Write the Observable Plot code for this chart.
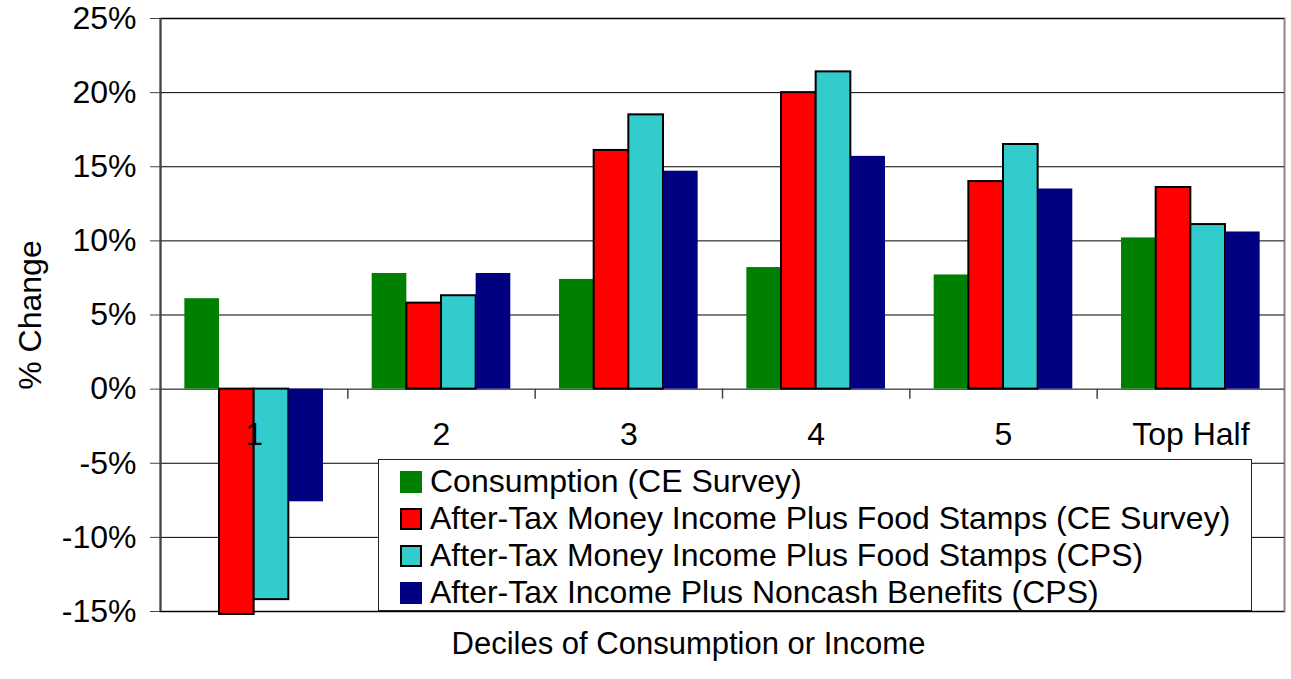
<!DOCTYPE html>
<html>
<head>
<meta charset="utf-8">
<script src="https://cdn.jsdelivr.net/npm/d3@7"></script>
<script src="https://cdn.jsdelivr.net/npm/@observablehq/plot@0.6"></script>
<style>
  html, body { margin: 0; padding: 0; background: #fff; }
  #wrap { position: relative; width: 1291px; height: 679px; font-family: "Liberation Sans", Arial, sans-serif; }
  #legend { position: absolute; left: 378px; top: 459px; width: 872px; height: 150px; background: #fff; border: 1.5px solid #222; box-sizing: content-box; }
  .row { position: absolute; left: 21px; height: 37px; display: flex; align-items: center; font-size: 32px; color: #000; white-space: nowrap; }
  .sw { width: 22px; height: 22px; margin-right: 8px; box-sizing: border-box; flex: none; }
</style>
</head>
<body>
<div id="wrap"></div>
<script>
const groups = ["1", "2", "3", "4", "5", "Top Half"];
const series = [
  "Consumption (CE Survey)",
  "After-Tax Money Income Plus Food Stamps (CE Survey)",
  "After-Tax Money Income Plus Food Stamps (CPS)",
  "After-Tax Income Plus Noncash Benefits (CPS)"
];
const consumptionCE = [6.1, 7.8, 7.4, 8.2, 7.7, 10.2];
const afterTaxFoodCE = [-15.2, 5.8, 16.1, 20.0, 14.0, 13.6];
const afterTaxFoodCPS = [-14.2, 6.3, 18.5, 21.4, 16.5, 11.1];
const afterTaxNoncashCPS = [-7.6, 7.8, 14.7, 15.7, 13.5, 10.6];
const yTicks = [-15, -10, -5, 0, 5, 10, 15, 20, 25];
const xTitle = "Deciles of Consumption or Income";
const yTitle = "% Change";

const colors = ["#008000", "#FF0000", "#33CCCC", "#000080"];
const strokes = ["none", "#000", "#000", "none"];
const seriesValues = [consumptionCE, afterTaxFoodCE, afterTaxFoodCPS, afterTaxNoncashCPS];

// layout within each category band (band = 1 unit)
const barW = 0.185;
const pad = (1 - series.length * barW) / 2;
const FS = 32;

const table = groups.flatMap((g, gi) => series.map((s, si) => ({
  group: g, gi, series: s, si, value: seriesValues[si][gi]
})));

const plot = Plot.plot({
  width: 1291,
  height: 679,
  marginLeft: 160,
  marginRight: 7,
  marginTop: 18,
  marginBottom: 68,
  style: { fontFamily: "'Liberation Sans', Arial, sans-serif", fontSize: FS + "px", color: "#000", background: "#fff" },
  x: { type: "linear", domain: [0, groups.length], axis: null },
  y: { domain: [-15, 25], axis: null },
  marks: [
    Plot.frame({ stroke: "#888", strokeWidth: 2 }),
    Plot.gridY(yTicks, { stroke: "#000", strokeOpacity: 1, strokeWidth: 1 }),
    Plot.axisY({ ticks: yTicks, tickSize: 10, tickPadding: 14, tickFormat: d => d + "%", stroke: "#444", label: null, fontSize: FS }),
    Plot.rectY(table, {
      x1: d => d.gi + pad + d.si * barW,
      x2: d => d.gi + pad + (d.si + 1) * barW,
      y1: 0,
      y2: "value",
      fill: d => colors[d.si],
      stroke: d => strokes[d.si],
      strokeWidth: 2
    }),
    Plot.ruleX(d3.range(1, groups.length), { x: d => d, y1: 0, y2: 0, insetBottom: -10, stroke: "#444", strokeWidth: 1.5 }),
    Plot.ruleX([0], { stroke: "#444", strokeWidth: 2 }),
    Plot.text(groups, { x: (d, i) => i + 0.5, y: () => 0, text: d => d, dy: 46, fontSize: FS, fill: "#000" }),
    Plot.text([xTitle], { frameAnchor: "bottom", text: d => d, dx: -34, dy: 33, lineAnchor: "middle", textAnchor: "middle", fontSize: 31, fill: "#000" }),
    Plot.text([yTitle], { frameAnchor: "left", text: d => d, rotate: -90, dx: -130, textAnchor: "middle", lineAnchor: "middle", fontSize: FS, fill: "#000" })
  ]
});

const wrap = document.getElementById("wrap");
wrap.appendChild(plot);

const legend = document.createElement("div");
legend.id = "legend";
series.forEach((s, i) => {
  const row = document.createElement("div");
  row.className = "row";
  row.style.top = (3 + i * 37) + "px";
  const sw = document.createElement("div");
  sw.className = "sw";
  sw.style.background = colors[i];
  if (strokes[i] !== "none") sw.style.border = "2px solid #000";
  const label = document.createElement("span");
  label.textContent = s;
  row.appendChild(sw);
  row.appendChild(label);
  legend.appendChild(row);
});
wrap.appendChild(legend);
</script>
</body>
</html>
